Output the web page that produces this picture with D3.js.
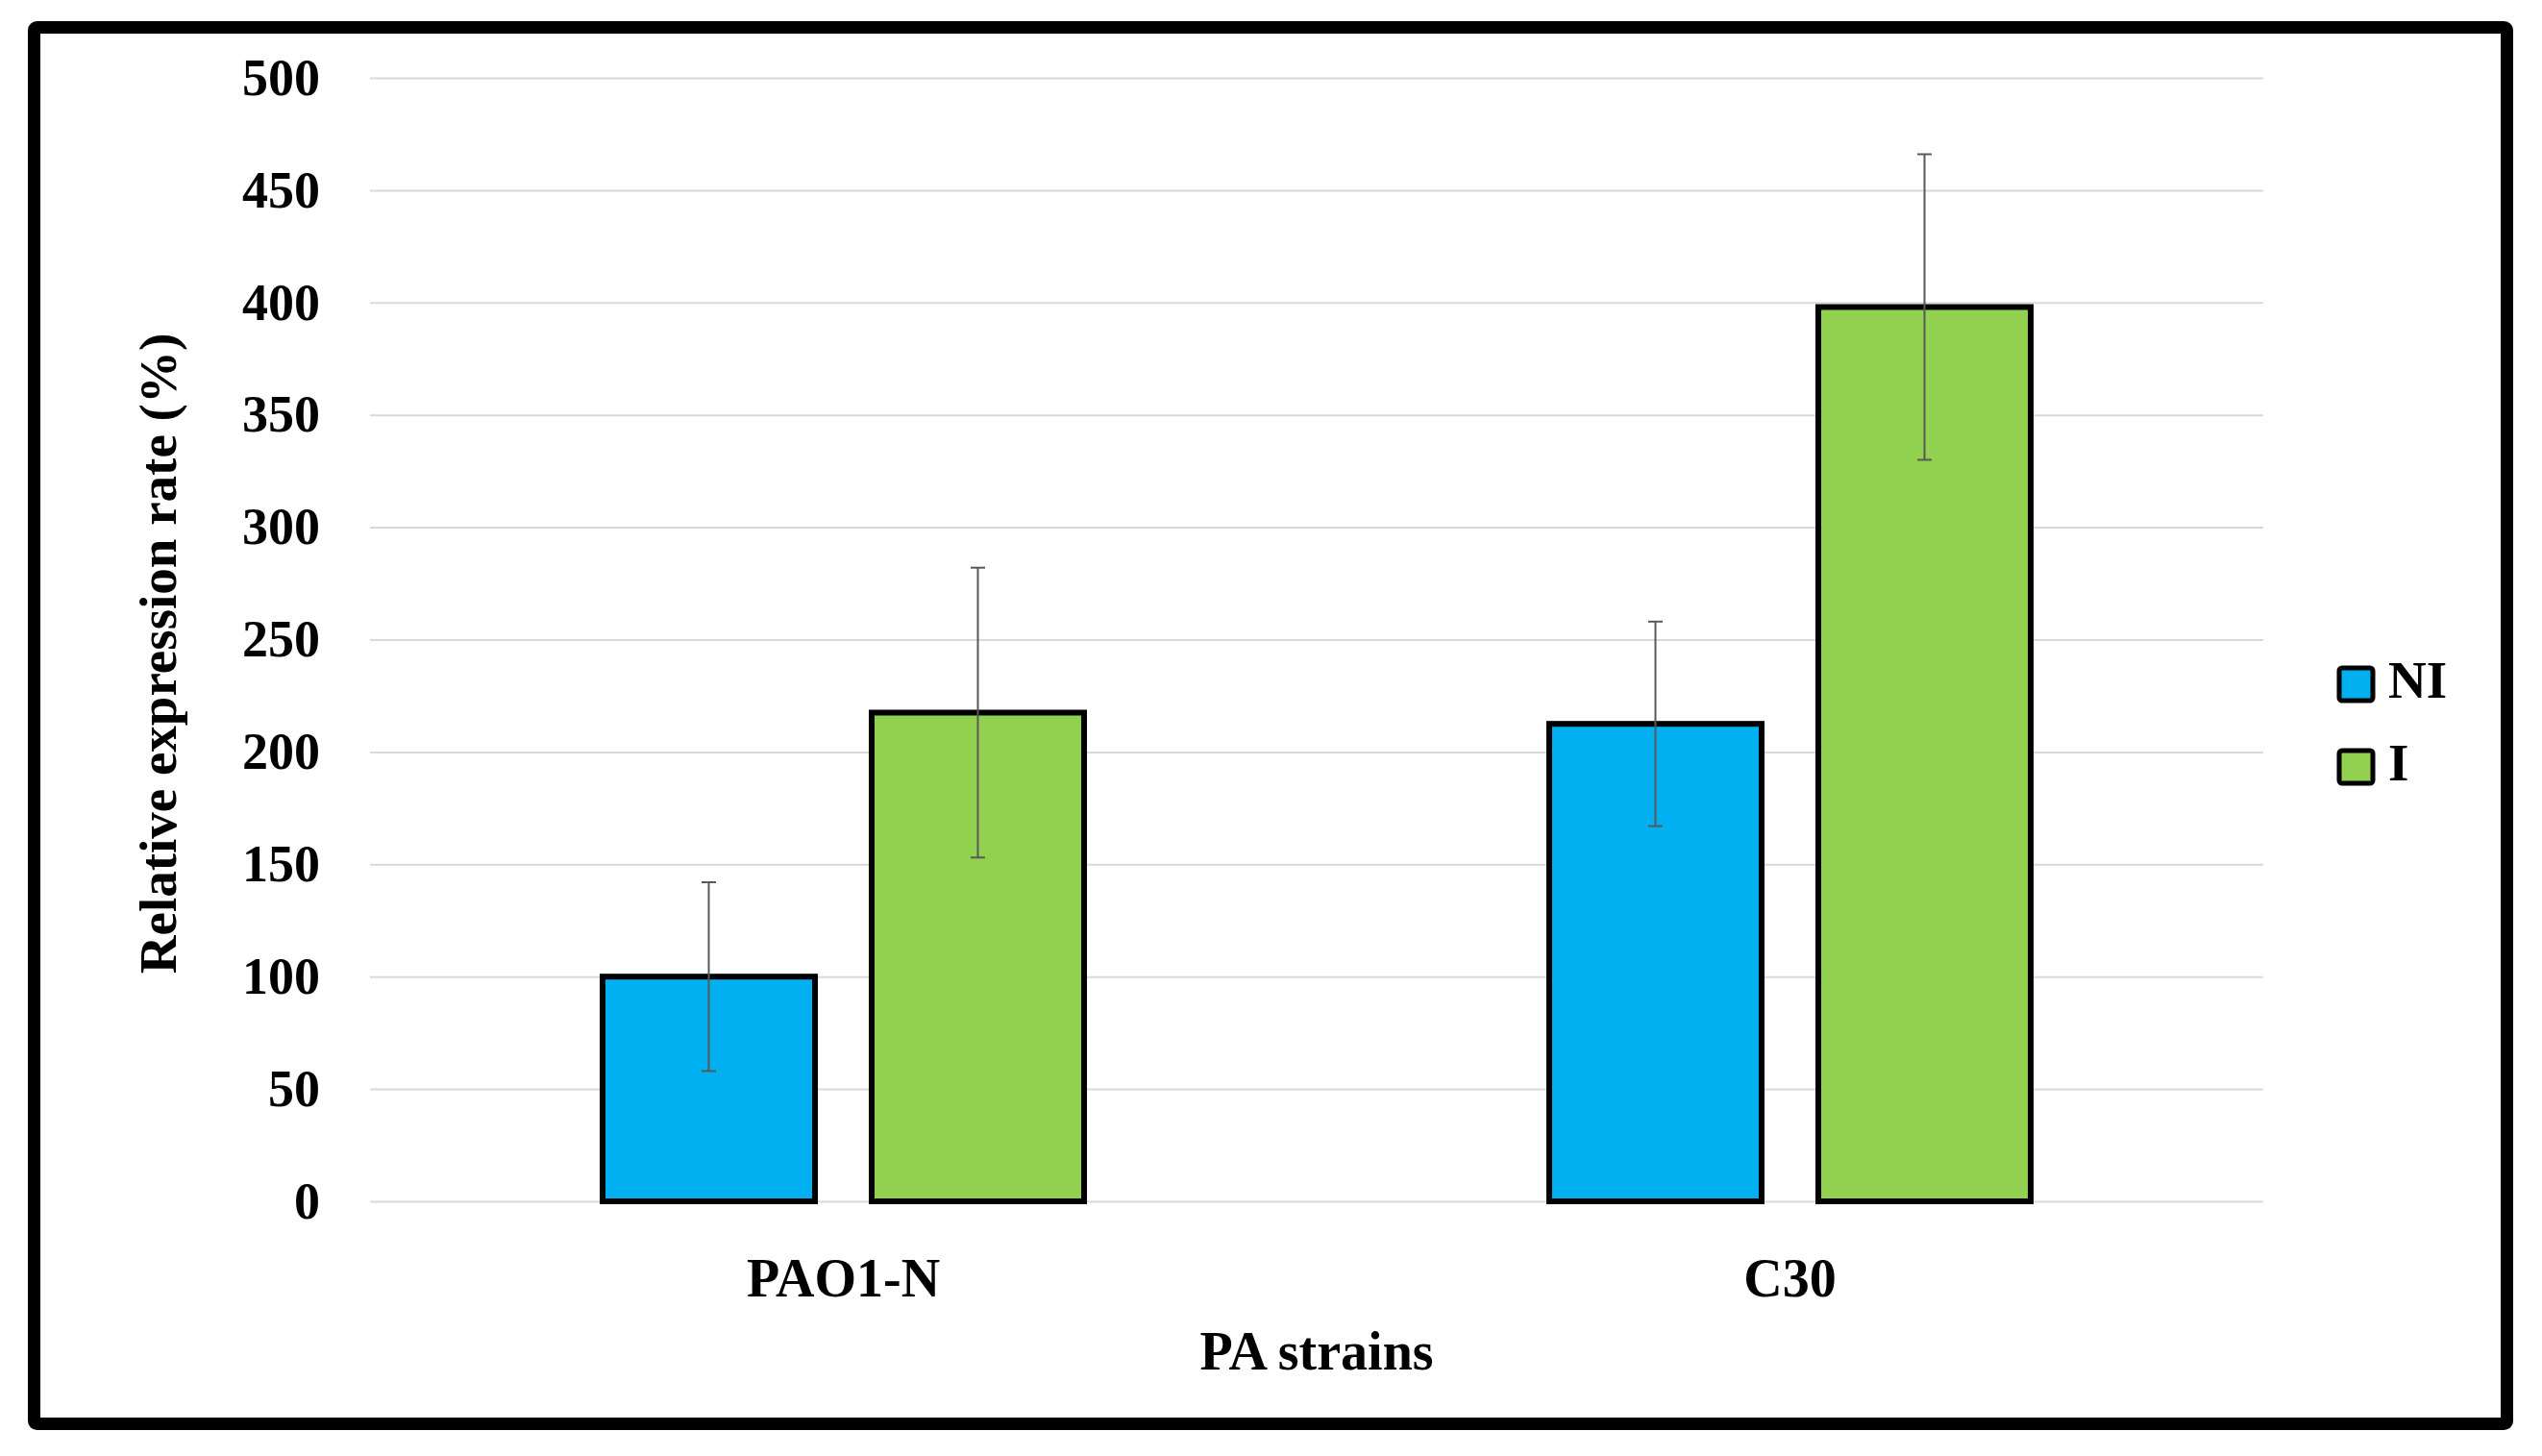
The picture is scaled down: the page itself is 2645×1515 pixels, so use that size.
<!DOCTYPE html>
<html>
<head>
<meta charset="utf-8">
<script src="https://cdn.jsdelivr.net/npm/d3@7"></script>
<style>
  html, body { margin: 0; padding: 0; background: #fff; }
  svg { display: block; }
  text { font-family: "Liberation Serif", "DejaVu Serif", serif; font-weight: bold; fill: #000; }
</style>
</head>
<body>
<svg id="chart" width="2645" height="1515"></svg>
<script>
const categories = ["PAO1-N", "C30"];
const seriesNames = ["NI", "I"];
const valuesNI = [100, 212.5];
const valuesI = [217.5, 398];
const errorsNI = [42, 45.5];
const errorsI = [64.5, 68];
const yTicks = [0, 50, 100, 150, 200, 250, 300, 350, 400, 450, 500];
const seriesColors = ["#00B0F0", "#92D050"];

const svg = d3.select("#chart");
const W = 2645, H = 1515;
const plot = { left: 385, right: 2355, top: 81, bottom: 1250 };

svg.append("rect").attr("width", W).attr("height", H).attr("fill", "#fff");

// outer frame
svg.append("rect")
  .attr("x", 35.5).attr("y", 28.5)
  .attr("width", 2573).attr("height", 1453)
  .attr("rx", 3)
  .attr("fill", "none").attr("stroke", "#000").attr("stroke-width", 13);

const y = d3.scaleLinear().domain([0, 500]).range([plot.bottom, plot.top]);
const x = d3.scaleBand().domain(categories).range([plot.left, plot.right]).paddingInner(0).paddingOuter(0);
const groupW = 501;
const xs = d3.scaleBand().domain(seriesNames)
  .range([(x.bandwidth() - groupW) / 2, (x.bandwidth() + groupW) / 2])
  .paddingInner(0.2107).paddingOuter(0);

// gridlines
const grid = svg.append("g").attr("transform", `translate(${plot.left},0)`)
  .call(d3.axisLeft(y).tickValues(yTicks).tickSize(-(plot.right - plot.left)).tickFormat(""));
grid.select(".domain").remove();
grid.selectAll(".tick line").attr("stroke", "#d9d9d9").attr("stroke-width", 2);

// y axis labels
const yAxis = svg.append("g").attr("transform", `translate(${plot.left},0)`)
  .call(d3.axisLeft(y).tickValues(yTicks).tickSize(0).tickPadding(52));
yAxis.select(".domain").remove();
yAxis.selectAll("text")
  .style("font-family", "'Liberation Serif', serif").style("font-weight", "bold")
  .attr("font-size", 54).attr("fill", "#000");

// x axis labels
const xAxis = svg.append("g").attr("transform", `translate(0,${plot.bottom})`)
  .call(d3.axisBottom(x).tickSize(0));
xAxis.select(".domain").remove();
xAxis.selectAll("text")
  .style("font-family", "'Liberation Serif', serif").style("font-weight", "bold")
  .attr("font-size", 56).attr("fill", "#000")
  .attr("y", 99).attr("dy", 0);

// data rows
const rows = categories.map((c, i) => ({
  cat: c,
  items: [
    { s: "NI", v: valuesNI[i], e: errorsNI[i], color: seriesColors[0] },
    { s: "I", v: valuesI[i], e: errorsI[i], color: seriesColors[1] }
  ]
}));

const groups = svg.append("g").selectAll("g.grp").data(rows).join("g")
  .attr("class", "grp")
  .attr("transform", d => `translate(${x(d.cat)},0)`);

groups.selectAll("rect.bar").data(d => d.items).join("rect")
  .attr("class", "bar")
  .attr("x", d => xs(d.s))
  .attr("y", d => y(d.v))
  .attr("width", xs.bandwidth())
  .attr("height", d => y(0) - y(d.v))
  .attr("fill", d => d.color)
  .attr("stroke", "#000")
  .attr("stroke-width", 6);

// error bars
const capW = 15;
const eb = groups.selectAll("g.err").data(d => d.items).join("g").attr("class", "err");
eb.append("line")
  .attr("x1", d => xs(d.s) + xs.bandwidth() / 2).attr("x2", d => xs(d.s) + xs.bandwidth() / 2)
  .attr("y1", d => y(d.v + d.e)).attr("y2", d => y(d.v - d.e))
  .attr("stroke", "#595959").attr("stroke-width", 2);
eb.append("line")
  .attr("x1", d => xs(d.s) + xs.bandwidth() / 2 - capW / 2).attr("x2", d => xs(d.s) + xs.bandwidth() / 2 + capW / 2)
  .attr("y1", d => y(d.v + d.e)).attr("y2", d => y(d.v + d.e))
  .attr("stroke", "#595959").attr("stroke-width", 2);
eb.append("line")
  .attr("x1", d => xs(d.s) + xs.bandwidth() / 2 - capW / 2).attr("x2", d => xs(d.s) + xs.bandwidth() / 2 + capW / 2)
  .attr("y1", d => y(d.v - d.e)).attr("y2", d => y(d.v - d.e))
  .attr("stroke", "#595959").attr("stroke-width", 2);

// axis titles
svg.append("text")
  .attr("x", (plot.left + plot.right) / 2).attr("y", 1425)
  .attr("text-anchor", "middle").attr("font-size", 56)
  .text("PA strains");

svg.append("text")
  .attr("transform", "translate(183,680) rotate(-90)")
  .attr("text-anchor", "middle").attr("font-size", 55)
  .text("Relative expression rate (%)");

// legend
const legend = svg.append("g").selectAll("g").data(seriesNames).join("g")
  .attr("transform", (d, i) => `translate(2434,${695 + i * 86})`);
legend.append("rect")
  .attr("width", 35).attr("height", 34).attr("rx", 3)
  .attr("fill", (d, i) => seriesColors[i])
  .attr("stroke", "#000").attr("stroke-width", 5);
legend.append("text")
  .attr("x", 51).attr("y", 31)
  .attr("font-size", 55)
  .text(d => d);
</script>
</body>
</html>
